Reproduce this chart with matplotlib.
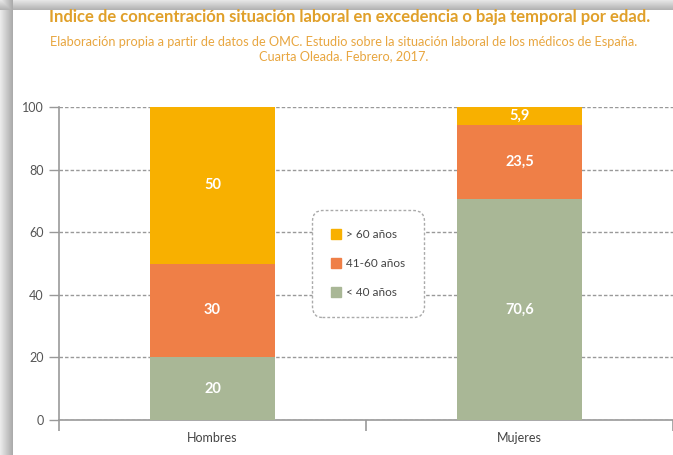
import numpy as np
import matplotlib
matplotlib.use("Agg")
import matplotlib.pyplot as plt
from matplotlib.patches import Patch

plt.rcParams['font.family'] = ['Lato', 'DejaVu Sans']

categories = ['Hombres', 'Mujeres']
menos40 = [20, 70.6]
de41a60 = [30, 23.5]
mas60 = [50, 5.9]
series_labels = ['> 60 años', '41-60 años', '< 40 años']
yticks = [0, 20, 40, 60, 80, 100]

c_green = '#A9B796'
c_orange = '#EF7F47'
c_yellow = '#F8B000'

fig = plt.figure(figsize=(6.73, 4.55), dpi=100)

# drop shadow of the panel
H, W = 455, 673
img = np.ones((H, W, 3))
left_w, top_h = 13, 10
for xx in range(left_w):
    img[:, xx, :] = 0.92 - 0.27 * (xx / left_w)
for yy in range(top_h):
    g = 0.90 - 0.22 * (yy / top_h)
    img[yy, :, :] = np.minimum(img[yy, :, :], g)
bg = fig.add_axes([0, 0, 1, 1], zorder=-10)
bg.imshow(img, aspect='auto', interpolation='bilinear')
bg.axis('off')

ax = fig.add_axes([59 / 673, 1 - 420 / 455, 1 - 59 / 673, (420 - 107) / 455])
x = np.arange(len(categories))
w = 0.41
b1 = ax.bar(x, menos40, w, color=c_green, zorder=3)
b2 = ax.bar(x, de41a60, w, bottom=menos40, color=c_orange, zorder=3)
bottom3 = [a + b for a, b in zip(menos40, de41a60)]
b3 = ax.bar(x, mas60, w, bottom=bottom3, color=c_yellow, zorder=3)

def fmt(v):
    return ('%g' % v).replace('.', ',')

for vals, bots in [(menos40, [0, 0]), (de41a60, menos40), (mas60, bottom3)]:
    for xi, v, bo in zip(x, vals, bots):
        ax.text(xi, bo + v / 2, fmt(v), ha='center', va='center', color='white',
                fontsize=10.5, fontweight='bold', zorder=4)

ax.set_xlim(-0.5, 1.5)
ax.set_ylim(0, 100)
ax.set_yticks(yticks)
ax.set_yticklabels([str(t) for t in yticks])
ax.tick_params(axis='y', direction='out', length=7, width=1, color='#999999',
               labelcolor='#555555', labelsize=9, pad=4)
ax.set_xticks([-0.5, 0.5, 1.5])
ax.set_xticklabels(['', '', ''])
ax.tick_params(axis='x', which='major', direction='out', length=8, width=1.2, color='#999999')
ax.set_xticks(x, minor=True)
ax.set_xticklabels(categories, minor=True)
ax.tick_params(axis='x', which='minor', length=0, labelcolor='#444444', labelsize=9, pad=9)

for s in ['top', 'right']:
    ax.spines[s].set_visible(False)
for s in ['left', 'bottom']:
    ax.spines[s].set_color('#999999')
    ax.spines[s].set_linewidth(1.2)

ax.yaxis.grid(True, linestyle=(0, (2.5, 1.5)), color='#999999', lw=1)
ax.set_axisbelow(True)
ax.set_facecolor('none')

handles = [Patch(color=c_yellow), Patch(color=c_orange), Patch(color=c_green)]
leg = ax.legend(handles, series_labels, loc='center', bbox_to_anchor=(0.503, 0.50),
                frameon=True, fancybox=True, fontsize=8.5, handlelength=0.9, handleheight=0.9,
                labelspacing=1.5, borderpad=1.6, handletextpad=0.4, borderaxespad=0)
fr = leg.get_frame()
fr.set_edgecolor('#aaaaaa')
fr.set_linestyle((0, (2, 1.5)))
fr.set_linewidth(1)
fr.set_facecolor('white')
fr.set_alpha(1)
fr.set_boxstyle('round,pad=0,rounding_size=0.9')
leg.set_zorder(5)
for t in leg.get_texts():
    t.set_color('#444444')

fig.text(0.519, 0.962, 'Indice de concentración situación laboral en excedencia o baja temporal por edad.',
         ha='center', va='center', fontsize=12, fontweight='bold', color='#E0A02A')
fig.text(0.510, 0.907, 'Elaboración propia a partir de datos de OMC. Estudio sobre la situación laboral de los médicos de España.',
         ha='center', va='center', fontsize=9.2, color='#E8A640')
fig.text(0.510, 0.876, 'Cuarta Oleada. Febrero, 2017.',
         ha='center', va='center', fontsize=9.2, color='#E8A640')

fig.savefig('out.png', dpi=100)
